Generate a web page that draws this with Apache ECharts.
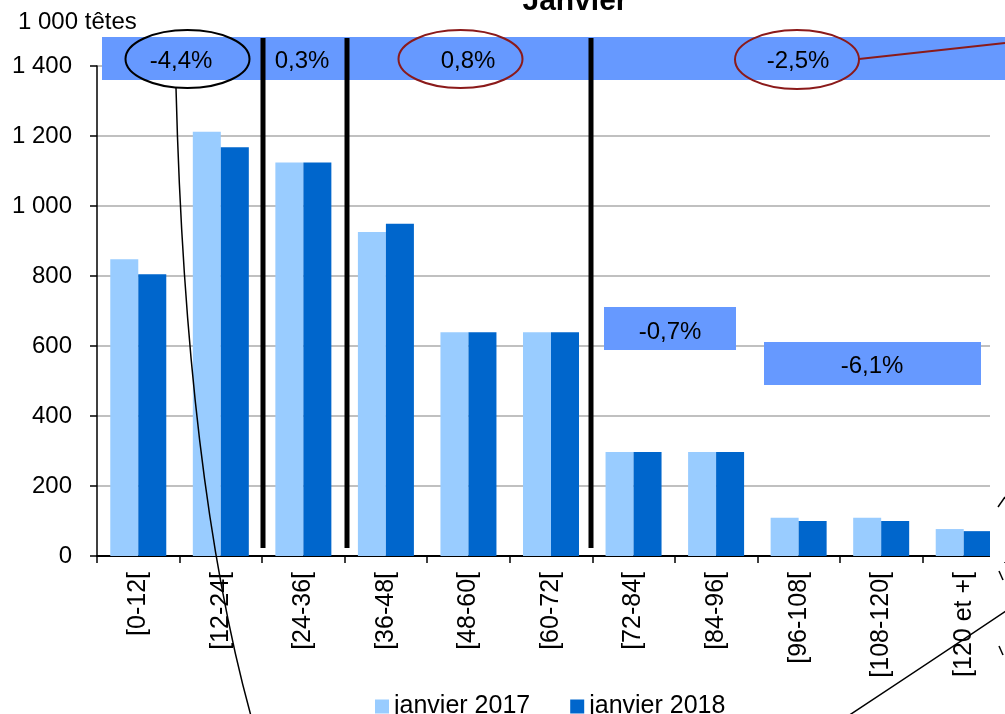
<!DOCTYPE html>
<html>
<head>
<meta charset="utf-8">
<script src="https://cdn.jsdelivr.net/npm/echarts@6/dist/echarts.min.js"></script>
<style>
html,body{margin:0;padding:0;background:#fff;}
#main{width:1005px;height:714px;}
</style>
</head>
<body>
<div id="main"></div>
<script>
const categories = ['[0-12[', '[12-24[', '[24-36[', '[36-48[', '[48-60[', '[60-72[', '[72-84[', '[84-96[', '[96-108[', '[108-120[', '[120 et +['];
const jan2017 = [848, 1212, 1124, 926, 639, 639, 297, 297, 109, 109, 77];
const jan2018 = [805, 1168, 1124, 949, 639, 639, 297, 297, 100, 100, 71];
const seriesNames = ['janvier 2017', 'janvier 2018'];
const yTicks = [0, 200, 400, 600, 800, 1000, 1200, 1400];
const bandLabels = ['-4,4%', '0,3%', '0,8%', '-2,5%'];
const boxLabels = ['-0,7%', '-6,1%'];

const FONT = '"Liberation Sans", Arial, sans-serif';
const chart = echarts.init(document.getElementById('main'), null, {renderer: 'canvas'});

function fmt(v) {
  const s = String(v);
  return s.length > 3 ? s.slice(0, s.length - 3) + ' ' + s.slice(-3) : s;
}

const red = '#8B1A1A';
const band = '#6699FF';

chart.setOption({
  animation: false,
  backgroundColor: '#fff',
  grid: {left: 97, top: 66, width: 911, height: 490, containLabel: false},
  legend: {
    data: seriesNames,
    left: 370,
    top: 689,
    itemWidth: 14,
    itemHeight: 14,
    itemGap: 40,
    icon: 'rect',
    textStyle: {fontFamily: FONT, fontSize: 25, color: '#000'}
  },
  xAxis: {
    type: 'category',
    data: categories,
    axisLine: {lineStyle: {color: '#000', width: 2}},
    axisTick: {show: true, length: 7, lineStyle: {color: '#000', width: 1.5}},
    axisLabel: {rotate: 90, margin: 16, fontFamily: FONT, fontSize: 25, color: '#000', interval: 0}
  },
  yAxis: {
    type: 'value',
    min: yTicks[0],
    max: yTicks[yTicks.length - 1],
    interval: 200,
    axisLine: {show: true, lineStyle: {color: '#000', width: 1.5}},
    axisTick: {show: true, length: 7, lineStyle: {color: '#000', width: 1.5}},
    axisLabel: {margin: 25, fontFamily: FONT, fontSize: 24, color: '#000', formatter: fmt},
    splitLine: {lineStyle: {color: '#C0C0C0', width: 2}}
  },
  series: [
    {name: seriesNames[0], type: 'bar', data: jan2017, barWidth: 28, barGap: '0%',
     itemStyle: {color: '#99CCFF'}},
    {name: seriesNames[1], type: 'bar', data: jan2018, barWidth: 28, barGap: '0%',
     itemStyle: {color: '#0066CC'}}
  ],
  graphic: [
    {type: 'rect', shape: {x: 990, y: 82, width: 20, height: 480}, style: {fill: '#fff'}, z: 50},
    {type: 'text', x: 575, y: 2, z: 60, style: {text: 'Janvier', font: 'bold 30px ' + FONT, fill: '#000', align: 'center', verticalAlign: 'middle'}},
    {type: 'text', x: 18, y: 22, z: 60, style: {text: '1 000 têtes', font: '24px ' + FONT, fill: '#000', align: 'left', verticalAlign: 'middle'}},
    {type: 'rect', shape: {x: 102, y: 37, width: 910, height: 43}, style: {fill: band}, z: 55},
    {type: 'line', shape: {x1: 263, y1: 38, x2: 263, y2: 548}, style: {stroke: '#000', lineWidth: 5}, z: 58},
    {type: 'line', shape: {x1: 347, y1: 38, x2: 347, y2: 548}, style: {stroke: '#000', lineWidth: 5}, z: 58},
    {type: 'line', shape: {x1: 591, y1: 38, x2: 591, y2: 548}, style: {stroke: '#000', lineWidth: 5}, z: 58},
    {type: 'text', x: 181, y: 61, z: 60, style: {text: bandLabels[0], font: '24px ' + FONT, fill: '#000', align: 'center', verticalAlign: 'middle'}},
    {type: 'text', x: 302, y: 61, z: 60, style: {text: bandLabels[1], font: '24px ' + FONT, fill: '#000', align: 'center', verticalAlign: 'middle'}},
    {type: 'text', x: 468, y: 61, z: 60, style: {text: bandLabels[2], font: '24px ' + FONT, fill: '#000', align: 'center', verticalAlign: 'middle'}},
    {type: 'text', x: 798, y: 61, z: 60, style: {text: bandLabels[3], font: '24px ' + FONT, fill: '#000', align: 'center', verticalAlign: 'middle'}},
    {type: 'ellipse', shape: {cx: 187.5, cy: 59, rx: 62, ry: 29}, style: {fill: null, stroke: '#000', lineWidth: 2}, z: 61},
    {type: 'ellipse', shape: {cx: 460.5, cy: 59, rx: 62, ry: 29}, style: {fill: null, stroke: red, lineWidth: 2}, z: 61},
    {type: 'ellipse', shape: {cx: 797, cy: 59.5, rx: 62, ry: 29.5}, style: {fill: null, stroke: red, lineWidth: 2}, z: 61},
    {type: 'line', shape: {x1: 859, y1: 59, x2: 1005, y2: 43}, style: {stroke: red, lineWidth: 2}, z: 61},
    {type: 'rect', shape: {x: 604, y: 307, width: 132, height: 43}, style: {fill: band}, z: 55},
    {type: 'text', x: 670, y: 332, z: 60, style: {text: boxLabels[0], font: '24px ' + FONT, fill: '#000', align: 'center', verticalAlign: 'middle'}},
    {type: 'rect', shape: {x: 764, y: 342, width: 217, height: 43}, style: {fill: band}, z: 55},
    {type: 'text', x: 872, y: 366, z: 60, style: {text: boxLabels[1], font: '24px ' + FONT, fill: '#000', align: 'center', verticalAlign: 'middle'}},
    {type: 'bezierCurve', shape: {x1: 176, y1: 88, cpx1: 186, cpy1: 480, x2: 251, y2: 716}, style: {fill: null, stroke: '#000', lineWidth: 1.5}, z: 62},
    {type: 'bezierCurve', shape: {x1: 848, y1: 716, cpx1: 930, cpy1: 662, x2: 1006, y2: 611}, style: {fill: null, stroke: '#000', lineWidth: 1.5}, z: 62},
    {type: 'line', shape: {x1: 998, y1: 507, x2: 1005, y2: 497}, style: {stroke: '#000', lineWidth: 1.5}, z: 62},
    {type: 'line', shape: {x1: 999, y1: 571, x2: 1003, y2: 580}, style: {stroke: '#000', lineWidth: 1.5}, z: 62},
    {type: 'line', shape: {x1: 999, y1: 646, x2: 1003, y2: 655}, style: {stroke: '#000', lineWidth: 1.5}, z: 62}
  ]
});
</script>
</body>
</html>
